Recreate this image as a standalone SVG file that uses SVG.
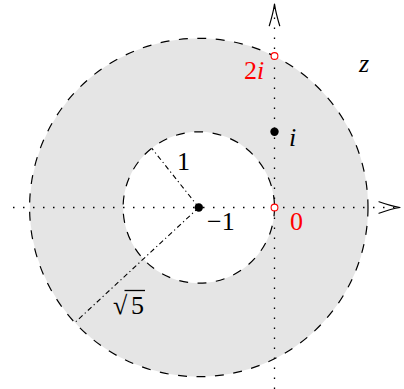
<svg xmlns="http://www.w3.org/2000/svg" width="404" height="389" viewBox="0 0 404 389">
<style>
.dash{fill:none;stroke:#000;stroke-width:1.2;stroke-dasharray:9 9.5}
.dot{fill:none;stroke:#000;stroke-width:1.3;stroke-dasharray:1.5 8.5}
.dashdot{fill:none;stroke:#000;stroke-width:1.1;stroke-dasharray:5 3 1.2 3}
.arrow{fill:none;stroke:#000;stroke-width:1.2;stroke-linecap:round;stroke-linejoin:round}
.lbl{font-family:"Liberation Serif","DejaVu Serif",serif;font-size:26px;fill:#000}
.it{font-style:italic}
.red{fill:#ff0000}
.hole{fill:#fff;stroke:#ff0000;stroke-width:1.1}
</style>
<g id="annulus">
<path d="M 29.8 207.5 A 169.2 169.2 0 1 0 368.2 207.5 A 169.2 169.2 0 1 0 29.8 207.5 Z M 123.1 207.5 A 75.7 75.7 0 1 0 274.5 207.5 A 75.7 75.7 0 1 0 123.1 207.5 Z" fill="#e5e5e5" fill-rule="evenodd"/>
<circle cx="198.8" cy="207.5" r="169.2" class="dash"/>
<circle cx="198.8" cy="207.5" r="75.7" class="dash"/>
</g>
<g id="connectors">
<line x1="13" y1="207.5" x2="399" y2="207.5" class="dot"/>
<line x1="274.5" y1="389" x2="274.5" y2="5" class="dot"/>
<path class="arrow" d="M 269.3 25.7 Q 273.2 13 274.5 4 Q 275.8 13 279.7 25.7"/>
<path class="arrow" d="M 379 201.8 Q 391.5 206.2 400 207.5 Q 391.5 208.8 379 213.2"/>
<line x1="198.8" y1="207.5" x2="151.7" y2="148.2" class="dashdot"/>
<line x1="198.8" y1="207.5" x2="75.5" y2="322" class="dashdot"/>
</g>
<g id="center">
<circle cx="198.8" cy="207.5" r="4.2" fill="#000"/>
<text class="lbl" x="207" y="230">−1</text>
</g>
<g id="point-i">
<circle cx="274.5" cy="131.8" r="4.2" fill="#000"/>
<text class="lbl it" x="289" y="146">i</text>
</g>
<g id="point-0">
<circle cx="274.5" cy="207.5" r="3.4" class="hole"/>
<text class="lbl red" x="290" y="230">0</text>
</g>
<g id="point-2i">
<circle cx="274.5" cy="56" r="3.4" class="hole"/>
<text class="lbl red" x="244" y="79">2<tspan class="it">i</tspan></text>
</g>
<g id="radius-1">
<text class="lbl" x="177" y="169.5">1</text>
</g>
<g id="radius-sqrt5">
<text class="lbl" x="113" y="314" font-size="34">√</text>
<line x1="124.5" y1="290.5" x2="145" y2="290.5" stroke="#000" stroke-width="1.3"/>
<text class="lbl" x="131" y="314">5</text>
</g>
<g id="label-z">
<text class="lbl it" x="359" y="72">z</text>
</g>
</svg>
